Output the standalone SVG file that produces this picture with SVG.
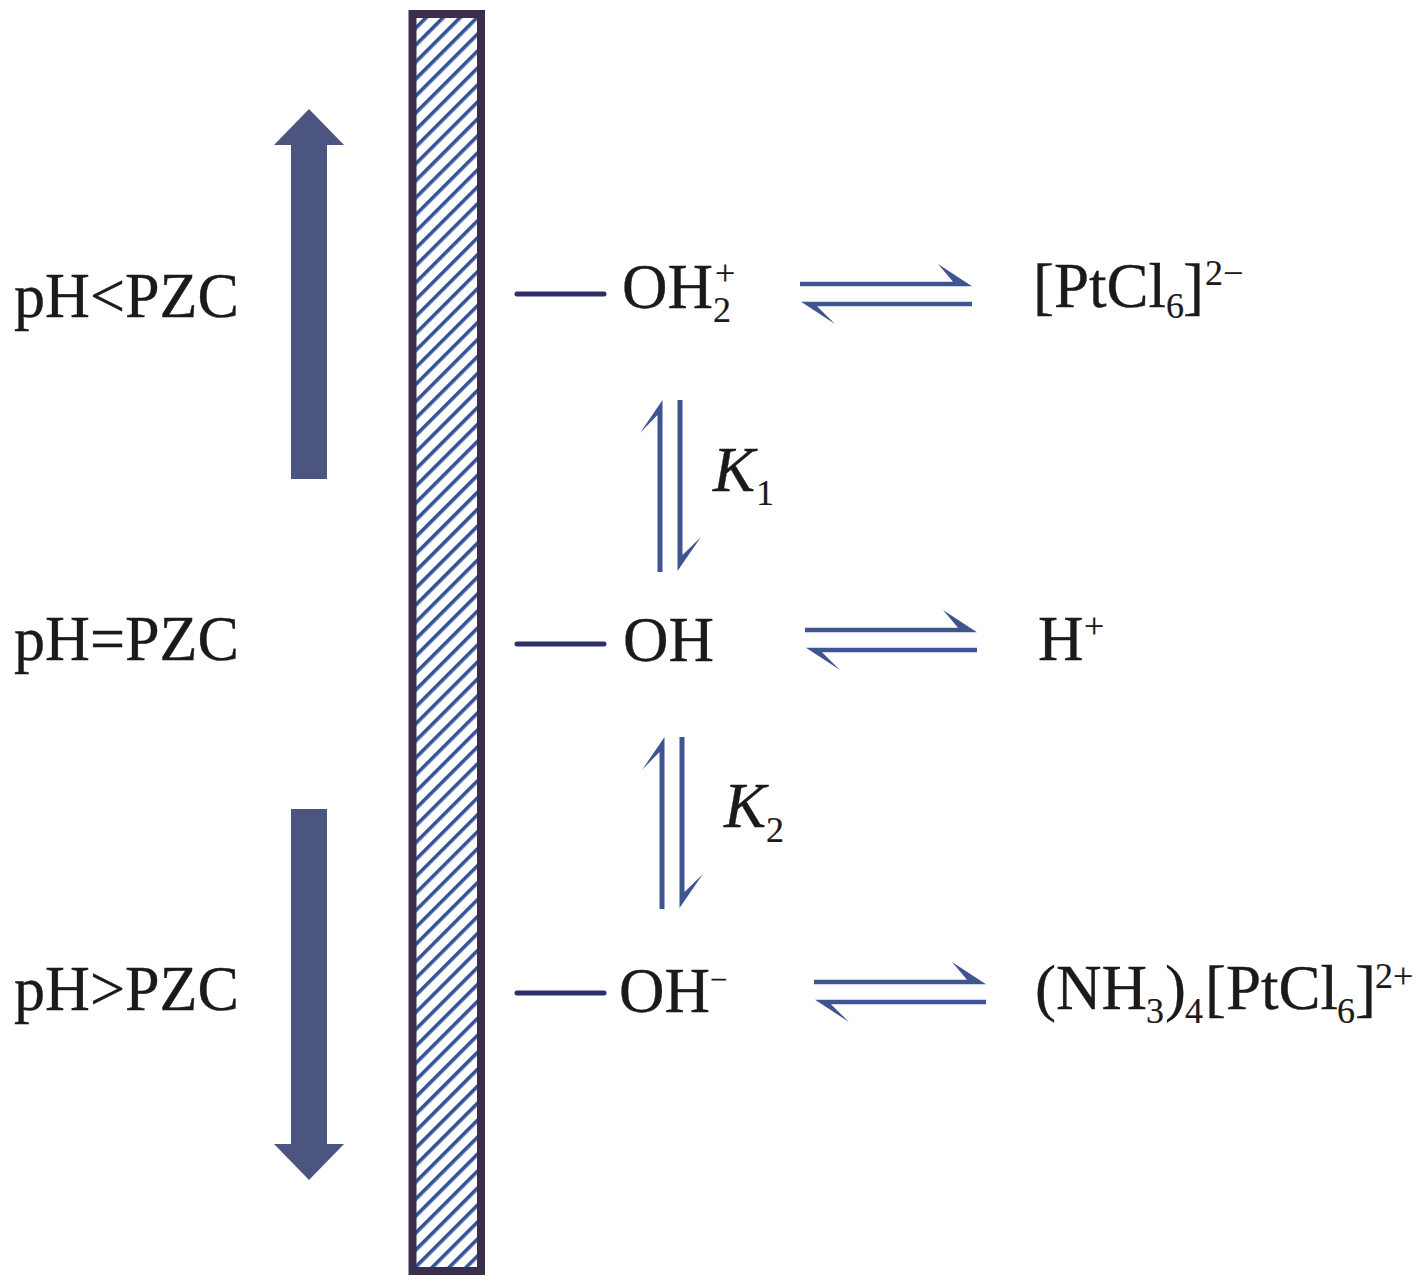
<svg xmlns="http://www.w3.org/2000/svg" width="1417" height="1287" viewBox="0 0 1417 1287">
<style>
text{font-family:"Liberation Serif","Times New Roman",serif;fill:#1c1a18;font-size:63px;stroke:#1c1a18;stroke-width:.35}
.s{font-size:36px;stroke-width:.2}
.m{font-size:31px}
.a{fill:#4b5580}
.l{stroke:#2e2f68;stroke-width:5;fill:none;stroke-linecap:round}
.e{fill:#3f5590}
</style>
<defs>
<pattern id="hatch" width="12" height="12" patternUnits="userSpaceOnUse" patternTransform="rotate(-45)"><rect width="12" height="12" fill="#fff"/><rect width="12" height="3.6" fill="#33529a"/></pattern>
<g id="eqh"><polygon class="e" points="800,281.7 953,281.7 938,264 972,286.3 800,286.3"/><polygon class="e" points="801,301.7 972,301.7 972,306.3 817,306.3 835,324"/></g>
<g id="eqv"><polygon class="e" points="662.5,572 662.5,400 640,433 657.5,415 657.5,572"/><polygon class="e" points="677.5,400 682.5,400 682.5,555 701,537 677.5,571"/></g>
</defs>
<rect width="1417" height="1287" fill="#fff"/>
<g id="wall"><rect x="412.5" y="14" width="68.500" height="1257" fill="url(#hatch)" stroke="#3a2f4a" stroke-width="8"/></g>
<g id="up-arrow"><polygon class="a" points="291,479 327,479 327,145 344,145 309,109 274,145 291,145"/></g>
<g id="down-arrow"><polygon class="a" points="291,809 327,809 327,1144 344,1144 309,1180 274,1144 291,1144"/></g>
<g id="connectors">
<path class="l" d="M517 294H604M517 644H604M517 993H604"/>
<use href="#eqh"/>
<use href="#eqh" x="5" y="346"/>
<use href="#eqh" x="14" y="698"/>
<use href="#eqv"/>
<use href="#eqv" x="2" y="337"/>
</g>
<g id="ph-lt"><text x="14" y="317" textLength="225" lengthAdjust="spacingAndGlyphs">pH&lt;PZC</text></g>
<g id="ph-eq"><text x="14" y="660" textLength="225" lengthAdjust="spacingAndGlyphs">pH=PZC</text></g>
<g id="ph-gt"><text x="14" y="1010" textLength="225" lengthAdjust="spacingAndGlyphs">pH&gt;PZC</text></g>
<g id="oh2"><text x="622" y="308">OH</text><text class="s" x="713" y="322">2</text><text class="s" x="715" y="285">+</text></g>
<g id="oh"><text x="623" y="661">OH</text></g>
<g id="ohm"><text x="619" y="1012">OH</text><text class="s m" x="710" y="990">−</text></g>
<g id="pt"><text x="1033" y="307">[PtCl</text><text class="s" x="1166" y="318">6</text><text x="1183" y="307">]</text><text class="s" x="1205" y="285">2−</text></g>
<g id="h"><text x="1038" y="660">H</text><text class="s" x="1084" y="638">+</text></g>
<g id="nh"><text x="1035" y="1009">(NH</text><text class="s" x="1146" y="1023">3</text><text x="1165" y="1009">)</text><text class="s" x="1185" y="1023">4</text><text x="1205" y="1009">[PtCl</text><text class="s" x="1337" y="1023">6</text><text x="1355" y="1009">]</text><text class="s" x="1375" y="988">2+</text></g>
<g id="k1"><text x="713" y="491" font-style="italic">K</text><text class="s" x="756" y="505">1</text></g>
<g id="k2"><text x="724" y="827" font-style="italic">K</text><text class="s" x="766" y="842">2</text></g>
</svg>
